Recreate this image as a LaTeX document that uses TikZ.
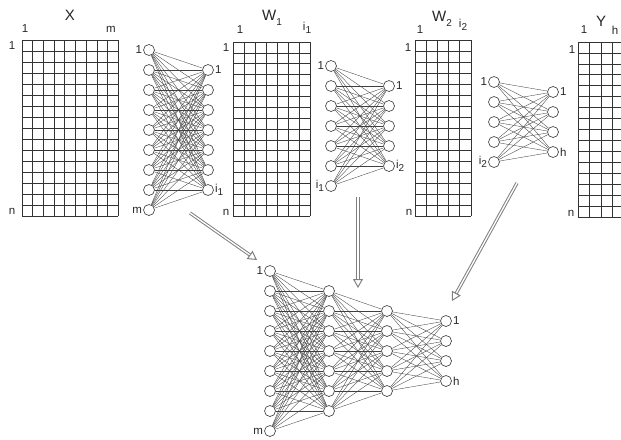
\documentclass[tikz,border=0pt]{standalone}
\usepackage{fontspec}
\setmainfont{Liberation Sans}
\usetikzlibrary{arrows.meta}
\newcommand{\sbs}[1]{\raisebox{-0.3em}{\fontsize{10}{10}\selectfont #1}}
\begin{document}
\begin{tikzpicture}[x=1pt,y=-1pt,
 neuron/.style={circle,draw=black!75,fill=white,line width=0.65pt,minimum size=11pt,inner sep=0pt},
 link/.style={draw=black!75,line width=0.35pt},
 gridline/.style={draw=black!80,line width=0.7pt},
 lab/.style={font=\fontsize{11.5}{11.5}\selectfont,inner sep=1pt,text=black!85},
 ttl/.style={font=\fontsize{15}{15}\selectfont,inner sep=0pt,text=black!85},
 bigarrow/.style={draw=black!50,double=white,double distance=1.3pt,line width=1pt,-{Triangle[open,length=9pt,width=10pt]}}
]
\useasboundingbox (0,0) rectangle (621,439);
\clip (0,0) rectangle (621,439);
% ---- matrix X ----
\foreach \i in {0,...,9} \draw[gridline] (22+\i*10.7,40) -- (22+\i*10.7,216);
\foreach \j in {0,...,16} \draw[gridline] (22,40+\j*11) -- (118.3,40+\j*11);
\node[ttl] (tX) at (70,15) {X};
\node[lab] (xc1) at (25,29) {1};
\node[lab] (xcm) at (111,29) {m};
\node[lab] (xr1) at (12,46) {1};
\node[lab] (xrn) at (12,211) {n};
% ---- matrix W1 ----
\foreach \i in {0,...,7} \draw[gridline] (233+\i*11,42) -- (233+\i*11,216);
\foreach \j in {0,...,16} \draw[gridline] (233,42+\j*10.875) -- (310,42+\j*10.875);
\node[ttl] (tW1) at (272,18) {W\sbs{1}};
\node[lab] (w1c1) at (240,30) {1};
\node[lab] (w1ci) at (307,28) {i\sbs{1}};
\node[lab] (w1r1) at (226,48) {1};
\node[lab] (w1rn) at (226,212) {n};
% ---- matrix W2 ----
\foreach \i in {0,...,5} \draw[gridline] (415+\i*11.2,40) -- (415+\i*11.2,216);
\foreach \j in {0,...,16} \draw[gridline] (415,40+\j*11) -- (471,40+\j*11);
\node[lab] (w2c1) at (420,30) {1};
\node[ttl] (tW2) at (442,19) {W\sbs{2}};
\node[lab] (w2ci) at (463,25) {i\sbs{2}};
\node[lab] (w2r1) at (408,48) {1};
\node[lab] (w2rn) at (409,212) {n};
% ---- matrix Y ----
\foreach \i in {0,...,5} \draw[gridline] (578+\i*11.5,42) -- (578+\i*11.5,217);
\foreach \j in {0,...,16} \draw[gridline] (578,42+\j*10.9375) -- (640,42+\j*10.9375);
\node[lab] (yc1) at (584,30) {1};
\node[ttl] (tY) at (601,21) {Y};
\node[lab,inner sep=0pt] (ych) at (615,30) {h};
\node[lab] (yr1) at (572,50) {1};
\node[lab] (yrn) at (571,213) {n};
% ---- network 1 ----
\foreach \k in {0,...,8} \node[neuron] (a\k) at (149,50+20*\k) {};
\foreach \k in {0,...,6} \node[neuron] (b\k) at (208,70+20*\k) {};
\foreach \p in {0,...,8} \foreach \q in {0,...,6} \draw[link] (a\p) -- (b\q);
\node[lab,anchor=east] (la1) at (a0.west) {1};
\node[lab,anchor=east] (lam) at (a8.west) {m};
\node[lab,anchor=west] (lb1) at (b0.east) {1};
\node[lab,anchor=west] (lbi) at (b6.east) {i\sbs{1}};
% ---- network 2 ----
\foreach \k in {0,...,6} \node[neuron] (c\k) at (331,66+20*\k) {};
\foreach \k in {0,...,4} \node[neuron] (d\k) at (389,86+20*\k) {};
\foreach \p in {0,...,6} \foreach \q in {0,...,4} \draw[link] (c\p) -- (d\q);
\node[lab,anchor=east] (lc1) at (c0.west) {1};
\node[lab,anchor=east] (lci) at (c6.west) {i\sbs{1}};
\node[lab,anchor=west] (ld1) at (d0.east) {1};
\node[lab,anchor=west] (ldi) at (d4.east) {i\sbs{2}};
% ---- network 3 ----
\foreach \k in {0,...,4} \node[neuron] (e\k) at (494,82+20*\k) {};
\foreach \k in {0,...,3} \node[neuron] (f\k) at (553,92+20*\k) {};
\foreach \p in {0,...,4} \foreach \q in {0,...,3} \draw[link] (e\p) -- (f\q);
\node[lab,anchor=east] (le1) at (e0.west) {1};
\node[lab,anchor=east] (lei) at (e4.west) {i\sbs{2}};
\node[lab,anchor=west] (lf1) at (f0.east) {1};
\node[lab,anchor=west] (lfh) at (f3.east) {h};
% ---- big network ----
\foreach \k in {0,...,8} \node[neuron] (g\k) at (270,271+20*\k) {};
\foreach \k in {0,...,6} \node[neuron] (h\k) at (329,291+20*\k) {};
\foreach \k in {0,...,4} \node[neuron] (m\k) at (387,311+20*\k) {};
\foreach \k in {0,...,3} \node[neuron] (o\k) at (446,321+20*\k) {};
\foreach \p in {0,...,8} \foreach \q in {0,...,6} \draw[link] (g\p) -- (h\q);
\foreach \p in {0,...,6} \foreach \q in {0,...,4} \draw[link] (h\p) -- (m\q);
\foreach \p in {0,...,4} \foreach \q in {0,...,3} \draw[link] (m\p) -- (o\q);
\node[lab,anchor=east] (lg1) at (g0.west) {1};
\node[lab,anchor=east] (lgm) at (g8.west) {m};
\node[lab,anchor=west] (lo1) at (o0.east) {1};
\node[lab,anchor=west] (loh) at (o3.east) {h};
% ---- arrows ----
\coordinate (s1) at (190,213); \coordinate (t1) at (257,260);
\coordinate (s2) at (358,197); \coordinate (t2) at (358,288);
\coordinate (s3) at (517,183); \coordinate (t3) at (452,301);
\draw[bigarrow] (s1) -- (t1);
\draw[bigarrow] (s2) -- (t2);
\draw[bigarrow] (s3) -- (t3);
\end{tikzpicture}
\end{document}
